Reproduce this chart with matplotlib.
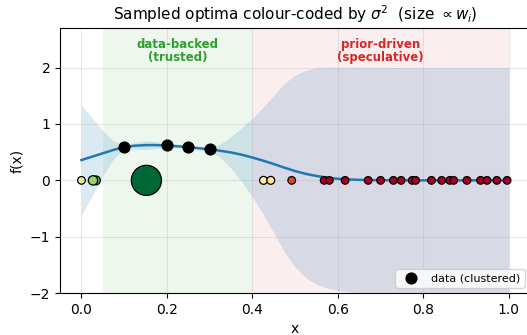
import numpy as np
import matplotlib
matplotlib.use("Agg")
import matplotlib.pyplot as plt

# GP posterior (mean and 2-sigma half width)
grid_x = [0.0, 0.025, 0.05, 0.075, 0.1, 0.125, 0.15, 0.175, 0.2, 0.225, 0.25, 0.275,
          0.3, 0.325, 0.35, 0.375, 0.4, 0.425, 0.45, 0.475, 0.5, 0.525, 0.55, 0.575,
          0.6, 0.625, 0.65, 0.675, 0.7, 0.75, 0.8, 0.85, 0.9, 0.95, 1.0]
mean = [0.36, 0.42, 0.48, 0.54, 0.59, 0.615, 0.625, 0.625, 0.62, 0.605, 0.59, 0.57,
        0.55, 0.525, 0.495, 0.455, 0.405, 0.35, 0.29, 0.225, 0.165, 0.115, 0.078, 0.048,
        0.028, 0.016, 0.009, 0.005, 0.003, 0.001, 0.0, 0.0, 0.0, 0.0, 0.0]
half_width = [0.98, 0.69, 0.40, 0.16, 0.03, 0.06, 0.08, 0.06, 0.03, 0.03, 0.02, 0.03,
              0.03, 0.12, 0.28, 0.48, 0.70, 0.95, 1.22, 1.50, 1.70, 1.84, 1.92, 1.96,
              1.98, 1.99, 2.0, 2.0, 2.0, 2.0, 2.0, 2.0, 2.0, 2.0, 2.0]

# observed data (cluster centres)
data_x = [0.10, 0.20, 0.25, 0.30]
data_y = [0.60, 0.62, 0.59, 0.55]

# sampled optima: position, variance (normalised), weight-based size
opt_x = [0.0, 0.034, 0.027, 0.152, 0.426, 0.443, 0.492, 0.568, 0.580, 0.617, 0.671,
         0.700, 0.730, 0.748, 0.774, 0.782, 0.819, 0.843, 0.862, 0.871, 0.902, 0.934,
         0.949, 0.972, 0.996]
opt_var = [0.42, 0.20, 0.28, 0.0, 0.56, 0.58, 0.86, 1.0, 1.0, 1.0, 1.0,
           1.0, 1.0, 1.0, 1.0, 1.0, 1.0, 1.0, 1.0, 1.0, 1.0, 1.0,
           1.0, 1.0, 1.0]
opt_size = [30, 40, 45, 470, 32, 32, 30, 30, 30, 30, 30,
            30, 30, 30, 30, 30, 30, 30, 30, 30, 30, 30,
            30, 30, 30]

gx = np.array(grid_x)
m = np.array(mean)
hw = np.array(half_width)

fig = plt.figure(figsize=(5.27, 3.35), dpi=100)
ax = fig.add_axes([0.114, 0.125, 0.892, 0.791])

ax.axvspan(0.05, 0.40, color='#2ca02c', alpha=0.08, lw=0, zorder=0)
ax.axvspan(0.40, 1.00, color='#d62728', alpha=0.08, lw=0, zorder=0)

ax.fill_between(gx, m - hw, m + hw, color='#1f77b4', alpha=0.16, lw=0, zorder=1)
ax.plot(gx, m, color='#1f77b4', lw=1.8, zorder=2)

ax.scatter(opt_x, np.zeros(len(opt_x)), s=opt_size, c=opt_var, cmap='RdYlGn_r',
           vmin=0, vmax=1, edgecolors='black', linewidths=0.9, zorder=3)
ax.scatter(data_x, data_y, s=60, color='black', zorder=4, label='data (clustered)')

ax.text(0.225, 2.3, 'data-backed\n(trusted)', color='#2ca02c', fontsize=8.5,
        fontweight='bold', ha='center', va='center', linespacing=1.0)
ax.text(0.70, 2.3, 'prior-driven\n(speculative)', color='#d62728', fontsize=8.5,
        fontweight='bold', ha='center', va='center', linespacing=1.0)

ax.set_xlim(-0.05, 1.05)
ax.set_ylim(-2, 2.7)
ax.set_xticks([0.0, 0.2, 0.4, 0.6, 0.8, 1.0])
ax.set_yticks([-2, -1, 0, 1, 2])
ax.grid(True, alpha=0.3)
ax.set_xlabel('x')
ax.set_ylabel('f(x)')
ax.set_title(r'Sampled optima colour-coded by $\sigma^2$  (size $\propto w_i$)', fontsize=11)
ax.legend(loc='lower right', fontsize=8)

fig.savefig('out.png', dpi=100)
